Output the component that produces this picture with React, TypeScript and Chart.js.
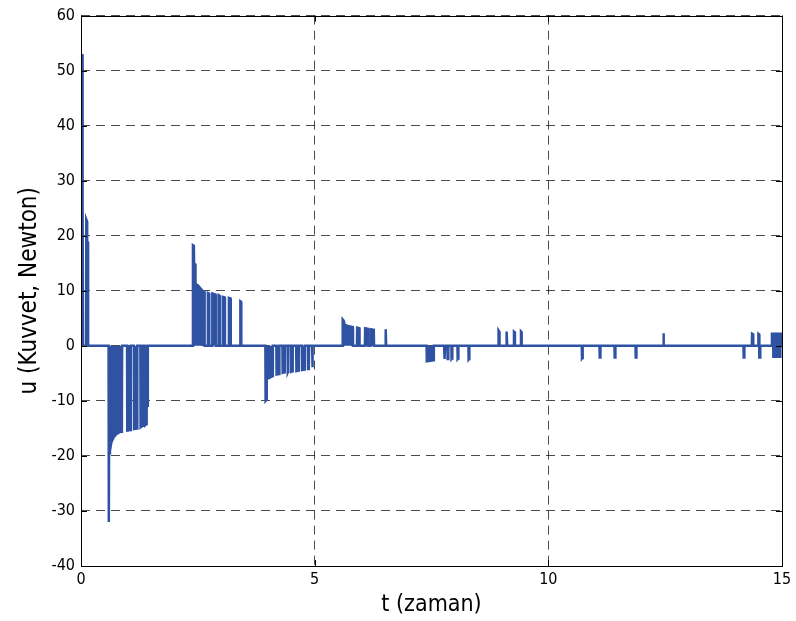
import React, { useEffect, useRef } from "react";
import { Chart, registerables } from "chart.js";

Chart.register(...registerables);

// Control force u(t): chattering bursts read as [t, u] pairs.
// Rapid switching inside a burst is drawn as a filled region down to u = 0.
const burstStart: [number, number][] = [
  [0.022, 53], [0.028, 26], [0.04, 25.2], [0.045, 0], [0.11, 0], [0.112, 23], [0.13, 22.6],
  [0.132, 19], [0.15, 18.8], [0.152, 0],
];

const burstNeg1: [number, number][] = [
  [0.59, 0], [0.595, -32], [0.6, -19.5], [0.62, -19], [0.65, -17.5], [0.7, -16.6],
  [0.75, -16.1], [0.8, -15.8], [0.86, -15.6], [0.875, -12], [0.88, 0],
  [0.985, 0], [0.99, -15.4], [1.06, -15.3], [1.065, 0], [1.13, 0], [1.135, -15.1],
  [1.2, -15], [1.205, 0], [1.27, 0], [1.275, -14.8], [1.32, -14.5], [1.325, 0], [1.37, 0],
  [1.375, -14.4], [1.4, -14.2], [1.405, -11], [1.425, -10.9], [1.43, 0],
];

const burstPos1: [number, number][] = [
  [2.39, 0], [2.395, 18.3], [2.415, 18.2], [2.42, 15], [2.445, 14.8], [2.45, 11.2], [2.5, 11],
  [2.55, 10.5], [2.6, 10], [2.64, 9.8], [2.645, 0], [2.71, 0], [2.715, 9.6], [2.74, 9.5],
  [2.745, 0], [2.805, 0], [2.81, 9.5], [2.88, 9.3], [2.885, 0], [2.94, 0], [2.945, 9.2],
  [2.965, 9.1], [2.97, 0], [3.03, 0], [3.035, 8.9], [3.075, 8.8], [3.08, 0], [3.16, 0],
  [3.165, 8.7], [3.2, 8.6], [3.205, 0], [3.405, 0], [3.41, 8.1], [3.425, 8.0], [3.43, 0],
];

const burstNeg2: [number, number][] = [
  [3.945, 0], [3.95, -10], [3.97, -9.8], [3.975, -6], [4.03, -5.8], [4.1, -5.5], [4.105, 0],
  [4.18, 0], [4.185, -5.2], [4.24, -5.1], [4.245, 0], [4.31, 0], [4.315, -4.9],
  [4.355, -4.8], [4.36, 0], [4.42, 0], [4.425, -4.8], [4.43, -4.7], [4.435, 0], [4.495, 0],
  [4.5, -4.7], [4.525, -4.6], [4.53, 0], [4.605, 0], [4.61, -4.6], [4.655, -4.5],
  [4.66, 0], [4.725, 0], [4.73, -4.4], [4.785, -4.3], [4.79, 0], [4.855, 0], [4.86, -4.2],
  [4.875, -4.1], [4.88, 0], [4.945, 0], [4.95, -3.9], [4.955, -3.6], [4.96, 0],
];

const burstPos2: [number, number][] = [
  [5.595, 0], [5.6, 4.8], [5.62, 4.6], [5.64, 3.9], [5.7, 3.6], [5.815, 3.4], [5.82, 0],
  [5.905, 0], [5.91, 3.3], [5.955, 3.2], [5.96, 0], [6.075, 0], [6.08, 3.2], [6.135, 3.1],
  [6.14, 0], [6.19, 0], [6.195, 3.0], [6.265, 2.9], [6.27, 0], [6.51, 0], [6.515, 3.0],
  [6.525, 2.9], [6.53, 0],
];

const burstNeg3: [number, number][] = [
  [7.395, 0], [7.4, -2.8], [7.47, -2.7], [7.545, -2.6], [7.55, 0], [7.77, 0], [7.775, -2.4],
  [7.785, -2.4], [7.79, 0], [7.84, 0], [7.845, -2.4], [7.855, -2.4], [7.86, 0], [7.925, 0],
  [7.93, -2.4], [7.94, -2.3], [7.945, 0], [8.055, 0], [8.06, -2.4], [8.07, -2.3],
  [8.075, 0], [8.29, 0], [8.295, -2.5], [8.305, -2.4], [8.31, 0],
];

const burstPos3: [number, number][] = [
  [8.93, 0], [8.935, 2.8], [8.95, 2.6], [8.955, 0], [9.095, 0], [9.1, 2.6], [9.115, 2.5],
  [9.12, 0], [9.26, 0], [9.265, 2.6], [9.28, 2.5], [9.285, 0], [9.41, 0], [9.415, 2.6],
  [9.425, 2.5], [9.43, 0],
];

const burstSparse: [number, number][] = [
  [10.715, 0], [10.72, -2.3], [10.73, -2.2], [10.735, 0], [11.095, 0], [11.1, -2.1],
  [11.11, -2.1], [11.115, 0], [11.415, 0], [11.42, -2.1], [11.43, -2.1], [11.435, 0],
  [11.865, 0], [11.87, -2.1], [11.88, -2.1], [11.885, 0], [12.455, 0], [12.46, 2.3],
  [12.47, 2.2], [12.475, 0],
];

const burstEnd: [number, number][] = [
  [14.175, 0], [14.18, -2.1], [14.19, -2.1], [14.195, 0], [14.355, 0], [14.36, 2.2],
  [14.38, 2.1], [14.385, 0], [14.49, 0], [14.495, 2.2], [14.51, 2.1], [14.515, -2.1],
  [14.53, -2.1], [14.535, 0], [14.78, 0], [14.785, 2.2], [14.81, 2.2], [14.815, -2.0],
  [14.84, -2.0], [14.845, 2.2], [14.87, 2.2], [14.875, -2.0], [14.9, -2.0], [14.905, 2.2],
  [14.93, 2.2], [14.935, -2.0], [14.96, -2.0], [14.965, 2.2], [15, 2.2],
];

const xTicks = [0, 5, 10, 15];
const yTicks = [-40, -30, -20, -10, 0, 10, 20, 30, 40, 50, 60];

const xLabel = "t (zaman)";
const yLabel = "u (Kuvvet, Newton)";

const FONT = "'Liberation Sans Narrow', 'DejaVu Sans Condensed', 'Liberation Sans', Arial, sans-serif";
const BLUE = "rgb(47,82,163)";

// Axes box with inward tick marks on all four sides.
const boxPlugin = {
  id: "axesBox",
  afterDraw(chart: any) {
    const { ctx, chartArea: a, scales } = chart;
    ctx.save();
    ctx.strokeStyle = "#000";
    ctx.lineWidth = 1;
    ctx.strokeRect(Math.round(a.left) + 0.5, Math.round(a.top) + 0.5,
      Math.round(a.right - a.left), Math.round(a.bottom - a.top));
    const tl = 6;
    ctx.beginPath();
    for (const v of xTicks) {
      const x = Math.round(scales.x.getPixelForValue(v)) + 0.5;
      ctx.moveTo(x, a.bottom); ctx.lineTo(x, a.bottom - tl);
      ctx.moveTo(x, a.top); ctx.lineTo(x, a.top + tl);
    }
    for (const v of yTicks) {
      const y = Math.round(scales.y.getPixelForValue(v)) + 0.5;
      ctx.moveTo(a.left, y); ctx.lineTo(a.left + tl, y);
      ctx.moveTo(a.right, y); ctx.lineTo(a.right - tl, y);
    }
    ctx.stroke();
    ctx.restore();
  },
};

export default function App() {
  const ref = useRef<HTMLCanvasElement | null>(null);

  useEffect(() => {
    if (!ref.current) return;
    const points = [
      ...burstStart, ...burstNeg1, ...burstPos1, ...burstNeg2, ...burstPos2,
      ...burstNeg3, ...burstPos3, ...burstSparse, ...burstEnd,
    ].map(([t, u]) => ({ x: t, y: u }));

    const chart = new Chart(ref.current, {
      type: "line",
      data: {
        datasets: [
          {
            data: points,
            borderColor: BLUE,
            backgroundColor: BLUE,
            borderWidth: 2.5,
            pointRadius: 0,
            tension: 0,
            fill: "origin",
          },
        ],
      },
      options: {
        animation: false,
        responsive: false,
        maintainAspectRatio: false,
        events: [],
        layout: { padding: { left: 0, right: 14, top: 13, bottom: 0 } },
        plugins: { legend: { display: false }, tooltip: { enabled: false } },
        scales: {
          x: {
            type: "linear",
            min: 0,
            max: 15,
            afterBuildTicks: (s: any) => { s.ticks = xTicks.map((v) => ({ value: v })); },
            afterFit: (s: any) => { s.height = 55; },
            grid: { color: "rgba(0,0,0,0.7)", lineWidth: 1, drawTicks: false },
            border: { display: false, dash: [9, 6] },
            ticks: { color: "#000", font: { family: FONT, size: 16 }, padding: 4, maxRotation: 0 },
            title: {
              display: true,
              text: xLabel,
              color: "#000",
              font: { family: FONT, size: 23 },
              padding: { top: 2, bottom: 2 },
            },
          },
          y: {
            type: "linear",
            min: -40,
            max: 60,
            afterBuildTicks: (s: any) => { s.ticks = yTicks.map((v) => ({ value: v })); },
            afterFit: (s: any) => { s.width = 81; },
            grid: { color: "rgba(0,0,0,0.7)", lineWidth: 1, drawTicks: false },
            border: { display: false, dash: [9, 6] },
            ticks: { color: "#000", font: { family: FONT, size: 16 }, padding: 6 },
            title: {
              display: true,
              text: yLabel,
              color: "#000",
              font: { family: FONT, size: 24 },
              padding: { top: 15, bottom: 0 },
            },
          },
        },
      },
      plugins: [boxPlugin],
    });
    return () => chart.destroy();
  }, []);

  return (
    <div style={{ position: "fixed", left: 0, top: 0, width: 796, height: 621, background: "#fff" }}>
      <canvas ref={ref} width={796} height={621} />
    </div>
  );
}
